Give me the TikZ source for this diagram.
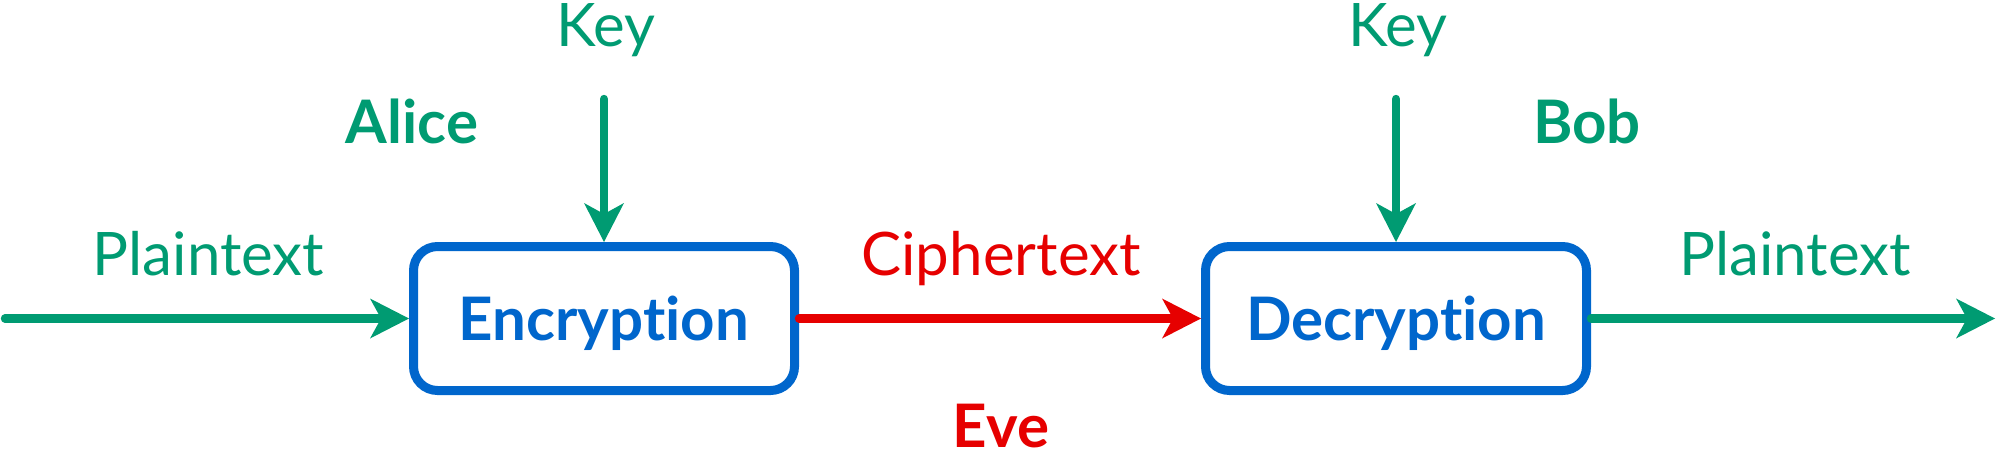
\documentclass[tikz,border=0pt]{standalone}
\usepackage{fontspec}
\setmainfont{Lato}[Ligatures={NoCommon}]
\usetikzlibrary{arrows.meta}
\definecolor{cgreen}{HTML}{009B72}
\definecolor{cblue}{HTML}{0066CC}
\definecolor{cred}{HTML}{E60000}
\tikzset{
  procbox/.style={draw=cblue, line width=4.5pt, rounded corners=12pt, fill=white,
    minimum width=190.5pt, minimum height=72pt, inner sep=0pt,
    text=cblue, font=\fontsize{30pt}{36pt}\selectfont\bfseries,
    text height=21.5pt, text depth=0pt},
  lbl/.style={anchor=base, inner sep=0pt, font=\fontsize{30pt}{36pt}\selectfont},
  bold/.style={font=\fontsize{30pt}{36pt}\selectfont\bfseries},
  flow/.style={line width=4.2pt, line cap=round,
    -{Stealth[length=19.5pt, width=20pt, inset=5.5pt, line width=0pt]}},
}
\begin{document}
\begin{tikzpicture}[x=0.5pt, y=-0.5pt]
\useasboundingbox (0,0) rectangle (2000,460);
% boxes
\node[procbox] (enc) at (604,318.5) {Encryption};
\node[procbox] (dec) at (1396,318.5) {Decryption};
% free ends
\coordinate (pin) at (5,318.5);
\coordinate (pout) at (1995,318.5);
\coordinate (k1) at (enc.north |- 0,99);
\coordinate (k2) at (dec.north |- 0,99);
% connectors
\draw[flow, cgreen] (pin) -- (enc.west);
\draw[flow, cgreen] (k1) -- (enc.north);
\draw[flow, cred] (enc.east) -- (dec.west);
\draw[flow, cgreen] (k2) -- (dec.north);
\draw[flow, cgreen] (dec.east) -- (pout);
% labels
\node[lbl, text=cgreen] (pt1) at (208.5,275) {Plaintext};
\node[lbl, text=cgreen] (key1) at (606,47) {Key};
\node[lbl, bold, text=cgreen] (alice) at (412,143) {Alice};
\node[lbl, text=cred] (ct) at (1001,275) {Ciphertext};
\node[lbl, bold, text=cred] (eve) at (1001,447) {Eve};
\node[lbl, text=cgreen] (key2) at (1398,47) {Key};
\node[lbl, bold, text=cgreen] (bob) at (1587,143) {Bob};
\node[lbl, text=cgreen] (pt2) at (1795,275) {Plaintext};
\end{tikzpicture}
\end{document}
